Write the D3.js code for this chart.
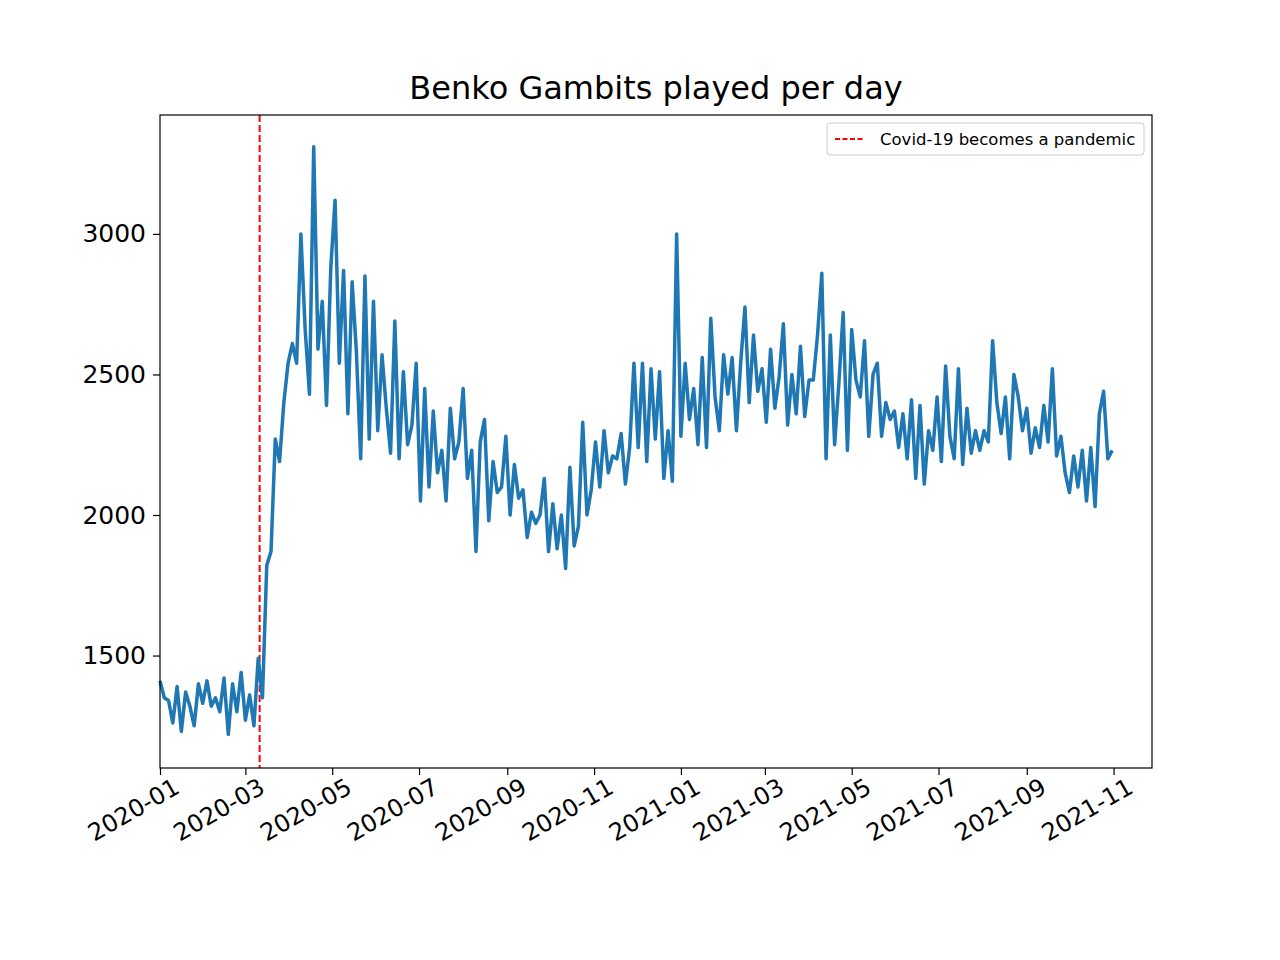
<!DOCTYPE html>
<html>
<head>
<meta charset="utf-8">
<script src="https://cdn.jsdelivr.net/npm/d3@7"></script>
<style>
  body { margin: 0; background: #fff; }
  text { font-family: "DejaVu Sans", sans-serif; }
</style>
</head>
<body>
<svg id="chart" width="1280" height="960"></svg>
<script>
// Games per day, sampled every 3 days from 2020-01-01
const startDate = new Date(2020, 0, 1);
const stepDays = 3;
const gamesPerDay = [
  1410, 1350, 1340, 1260, 1390, 1230, 1370, 1320, 1250, 1400,
  1330, 1410, 1320, 1350, 1300, 1420, 1220, 1400, 1300, 1440,
  1270, 1360, 1250, 1490, 1350, 1820, 1870, 2270, 2190, 2400,
  2540, 2610, 2540, 3000, 2660, 2430, 3310, 2590, 2760, 2390,
  2880, 3120, 2540, 2870, 2360, 2830, 2580, 2200, 2850, 2270,
  2760, 2300, 2570, 2380, 2220, 2690, 2200, 2510, 2250, 2320,
  2540, 2050, 2450, 2100, 2370, 2150, 2230, 2050, 2380, 2200,
  2260, 2450, 2130, 2230, 1870, 2260, 2340, 1980, 2190, 2080,
  2100, 2280, 2000, 2180, 2060, 2090, 1920, 2010, 1970, 2000,
  2130, 1870, 2040, 1880, 2000, 1810, 2170, 1890, 1960, 2330,
  2000, 2090, 2260, 2100, 2300, 2150, 2210, 2200, 2290, 2110,
  2240, 2540, 2240, 2540, 2190, 2520, 2270, 2510, 2130, 2300,
  2120, 3000, 2280, 2540, 2340, 2450, 2250, 2560, 2240, 2700,
  2420, 2300, 2570, 2430, 2560, 2300, 2540, 2740, 2400, 2640,
  2440, 2520, 2330, 2590, 2380, 2490, 2680, 2320, 2500, 2360,
  2600, 2350, 2480, 2480, 2640, 2860, 2200, 2640, 2250, 2470,
  2720, 2230, 2660, 2480, 2420, 2620, 2280, 2500, 2540, 2280,
  2400, 2340, 2370, 2240, 2360, 2200, 2410, 2130, 2390, 2110,
  2300, 2230, 2420, 2190, 2530, 2280, 2200, 2520, 2180, 2380,
  2220, 2300, 2230, 2300, 2260, 2620, 2400, 2290, 2420, 2200,
  2500, 2420, 2300, 2380, 2220, 2310, 2240, 2390, 2260, 2520,
  2210, 2280, 2150, 2080, 2210, 2100, 2230, 2050, 2240, 2030,
  2360, 2440, 2200, 2230
];
const pandemicDate = new Date(2020, 2, 11);
const pandemicLabel = 'Covid-19 becomes a pandemic';
const yTicks = [1500, 2000, 2500, 3000];
const xTicks = d3.range(0, 23, 2).map(m => new Date(2020, m, 1));

const data = gamesPerDay.map((v, i) => ({ date: d3.timeDay.offset(startDate, i * stepDays), value: v }));

const svg = d3.select('#chart');
const margin = { top: 115, right: 128, bottom: 192, left: 160 };
const width = 1280 - margin.left - margin.right;
const height = 960 - margin.top - margin.bottom;

const x = d3.scaleTime().domain([new Date(2020, 0, 1), new Date(2021, 10, 28)]).range([0, width]);
const y = d3.scaleLinear().domain([1100, 3423]).range([height, 0]);

const g = svg.append('g').attr('transform', `translate(${margin.left},${margin.top})`);

// Axes
const xAxis = g.append('g').attr('transform', `translate(0,${height})`)
  .call(d3.axisBottom(x).tickValues(xTicks).tickFormat(d3.timeFormat('%Y-%m')).tickSizeOuter(0).tickSize(7).tickPadding(6));
xAxis.selectAll('text')
  .attr('font-size', 24).attr('fill', '#000')
  .attr('text-anchor', 'end')
  .attr('dx', '0.25em').attr('dy', '0.75em')
  .attr('transform', 'rotate(-30)');

const yAxis = g.append('g')
  .call(d3.axisLeft(y).tickValues(yTicks).tickFormat(d3.format('d')).tickSizeOuter(0).tickSize(7).tickPadding(7));
yAxis.selectAll('text').attr('font-size', 25).attr('fill', '#000');
svg.selectAll('.domain').remove();
svg.selectAll('.tick line').attr('stroke', '#000').attr('stroke-width', 1.2);

// Pandemic line
g.append('line')
  .attr('x1', x(pandemicDate)).attr('x2', x(pandemicDate))
  .attr('y1', 0).attr('y2', height)
  .attr('stroke', 'red').attr('stroke-width', 2).attr('stroke-dasharray', '7,3');

// Series
const line = d3.line().x(d => x(d.date)).y(d => y(d.value));
g.append('path').datum(data)
  .attr('d', line)
  .attr('fill', 'none').attr('stroke', '#1f77b4').attr('stroke-width', 3.5)
  .attr('stroke-linejoin', 'round');

// Frame
g.append('rect').attr('width', width).attr('height', height)
  .attr('fill', 'none').attr('stroke', '#000').attr('stroke-width', 1.2);

// Title
svg.append('text').attr('x', margin.left + width / 2).attr('y', 99)
  .attr('text-anchor', 'middle').attr('font-size', 32).text('Benko Gambits played per day');

// Legend
const lg = g.append('g').attr('transform', `translate(${width - 325},8)`);
lg.append('rect').attr('width', 317).attr('height', 32).attr('rx', 3)
  .attr('fill', '#fff').attr('fill-opacity', 0.8).attr('stroke', '#ccc');
lg.append('line').attr('x1', 8).attr('x2', 36).attr('y1', 16).attr('y2', 16)
  .attr('stroke', 'red').attr('stroke-width', 2).attr('stroke-dasharray', '5,2.5');
lg.append('text').attr('x', 53).attr('y', 21.5).attr('font-size', 16.5).text(pandemicLabel);
</script>
</body>
</html>
